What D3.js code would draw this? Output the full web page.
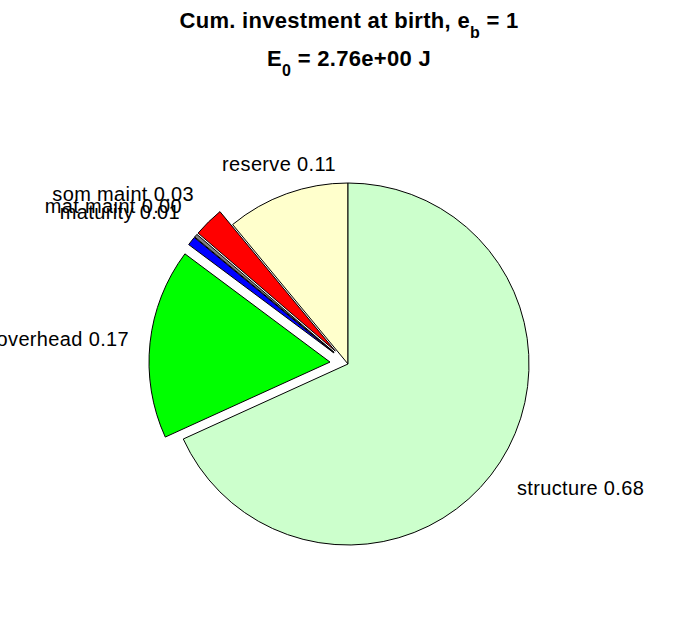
<!DOCTYPE html>
<html>
<head>
<meta charset="utf-8">
<script src="https://cdn.jsdelivr.net/npm/d3@7"></script>
<style>
  html, body { margin: 0; padding: 0; background: #fff; }
  svg { display: block; font-family: Arial, "Liberation Sans", Helvetica, sans-serif; }
</style>
</head>
<body>
<svg id="chart" width="696" height="618"></svg>
<script>
// ---- data ----
const categories = ["reserve", "som maint", "mat maint", "maturity", "overhead", "structure"];
const fractions  = [0.110, 0.027, 0.003, 0.008, 0.170, 0.682];
const exploded   = [false, true, true, true, true, false];
const colors     = ["#ffffcc", "#ff0000", "#808080", "#0000ff", "#00ff00", "#ccffcc"];
const titleLine1 = ["Cum. investment at birth, e", "b", " = 1"];
const titleLine2 = ["E", "0", " = 2.76e+00 J"];

// ---- layout (label placement, not data) ----
const labelLayout = {
  "reserve":   {x: 279, y: 171, anchor: "middle"},
  "som maint": {x: 194, y: 201, anchor: "end"},
  "mat maint": {x: 182, y: 213, anchor: "end"},
  "maturity":  {x: 180, y: 219, anchor: "end"},
  "overhead":  {x: 129, y: 346, anchor: "end"},
  "structure": {x: 517, y: 495, anchor: "start"}
};

const svg = d3.select("#chart");
const cx = 348, cy = 364, R = 181, explodeFrac = 0.1;

const data = categories.map((c, i) => ({name: c, value: fractions[i], exploded: exploded[i], color: colors[i]}));

const pie = d3.pie().sort(null).value(d => d.value)
  .startAngle(0).endAngle(-2 * Math.PI);
const arcs = pie(data);
const arc = d3.arc().innerRadius(0).outerRadius(R);

const g = svg.append("g").attr("transform", `translate(${cx},${cy})`);

g.selectAll("path.slice")
  .data(arcs)
  .join("path")
  .attr("class", "slice")
  .attr("d", arc)
  .attr("transform", d => {
    if (!d.data.exploded) return null;
    const mid = (d.startAngle + d.endAngle) / 2;
    const dx = Math.sin(mid) * R * explodeFrac;
    const dy = -Math.cos(mid) * R * explodeFrac;
    return `translate(${dx},${dy})`;
  })
  .attr("fill", d => d.data.color)
  .attr("stroke", "#000")
  .attr("stroke-width", 1)
  .attr("stroke-linejoin", "miter");

// labels
svg.selectAll("text.lbl")
  .data(arcs)
  .join("text")
  .attr("class", "lbl")
  .attr("x", d => labelLayout[d.data.name].x)
  .attr("y", d => labelLayout[d.data.name].y)
  .attr("text-anchor", d => labelLayout[d.data.name].anchor)
  .attr("font-size", 20)
  .attr("letter-spacing", 0.35)
  .attr("fill", "#000")
  .text(d => `${d.data.name} ${d.data.value.toFixed(2)}`);

// titles
function titleWithSub(parts, x, y) {
  const t = svg.append("text")
    .attr("x", x).attr("y", y)
    .attr("font-size", 22).attr("font-weight", "bold")
    .attr("letter-spacing", 0.3)
    .attr("text-anchor", "middle").attr("fill", "#000");
  t.append("tspan").text(parts[0]);
  t.append("tspan").attr("font-size", 16).attr("dy", 10).text(parts[1]);
  t.append("tspan").attr("dy", -10).text(parts[2]);
  return t;
}
titleWithSub(titleLine1, 349, 28);
titleWithSub(titleLine2, 349, 66);
</script>
</body>
</html>
